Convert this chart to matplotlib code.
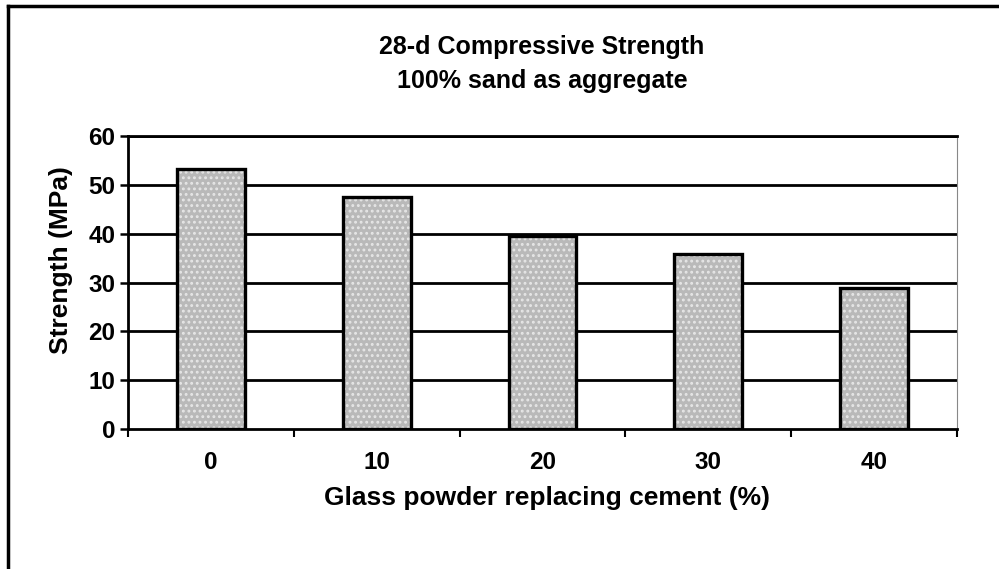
import matplotlib
matplotlib.use('Agg')
import matplotlib.pyplot as plt
import numpy as np

# data
glass_pct = ['0', '10', '20', '30', '40']
strength_mpa = [53.3, 47.5, 39.6, 35.9, 28.9]
y_ticks = [0, 10, 20, 30, 40, 50, 60]

plt.rcParams['font.family'] = ['Liberation Sans', 'DejaVu Sans']
plt.rcParams['font.weight'] = 'bold'
plt.rcParams['hatch.linewidth'] = 1.3

W, H = 999, 569
fig = plt.figure(figsize=(W / 100, H / 100), dpi=100)
ax = fig.add_axes([128 / W, 1 - 429 / H, (957 - 128) / W, (429 - 136) / H])

x = np.arange(len(glass_pct))

# horizontal gridlines, drawn under the bars
for yv in y_ticks[1:]:
    ax.axhline(yv, color='black', lw=2.0, zorder=1)

# stippled grey fill (hatch) then black outline on top
ax.bar(x, strength_mpa, width=0.41, color='#b9b9b9', edgecolor='#e6e6e6',
       hatch='...', linewidth=0, zorder=2)
ax.bar(x, strength_mpa, width=0.41, fill=False, edgecolor='black',
       linewidth=2.4, zorder=3)

ax.set_xlim(-0.5, len(glass_pct) - 0.5)
ax.set_ylim(0, 60)
ax.set_yticks(y_ticks)
ax.set_yticklabels([str(v) for v in y_ticks], fontsize=17.5)
ax.set_xticks(x)
ax.set_xticklabels(glass_pct, fontsize=17.5)
ax.tick_params(axis='x', length=0, pad=16)
ax.tick_params(axis='y', direction='out', length=6, width=1.8, pad=3)
# boundary ticks between categories on the x axis
ax.set_xticks(np.arange(-0.5, len(glass_pct) + 0.5, 1.0), minor=True)
ax.tick_params(axis='x', which='minor', direction='out', length=6, width=1.5)

for side in ['left', 'bottom']:
    ax.spines[side].set_linewidth(2.0)
ax.spines['top'].set_linewidth(2.0)
ax.spines['right'].set_linewidth(0.8)
ax.spines['right'].set_linestyle((0, (1, 1)))
ax.spines['right'].set_color('#888888')

# titles and labels placed to match the scan
fig.text(542 / W, 1 - 47 / H, '28-d Compressive Strength', ha='center', va='center',
         fontsize=18, fontweight='bold')
fig.text(542 / W, 1 - 81 / H, '100% sand as aggregate', ha='center', va='center',
         fontsize=18, fontweight='bold')
fig.text(61 / W, 1 - 260 / H, 'Strength (MPa)', ha='center', va='center',
         rotation=90, fontsize=19, fontweight='bold')
fig.text(547 / W, 1 - 498 / H, 'Glass powder replacing cement (%)', ha='center',
         va='center', fontsize=19, fontweight='bold')

# outer frame of the scanned figure (top and left edges only)
fig.add_artist(plt.Line2D([8 / W, 1], [1 - 6 / H, 1 - 6 / H], color='black', lw=2.5,
                          transform=fig.transFigure))
fig.add_artist(plt.Line2D([8 / W, 8 / W], [0, 1 - 6 / H], color='black', lw=2.5,
                          transform=fig.transFigure))

fig.savefig('out.png', dpi=100)
